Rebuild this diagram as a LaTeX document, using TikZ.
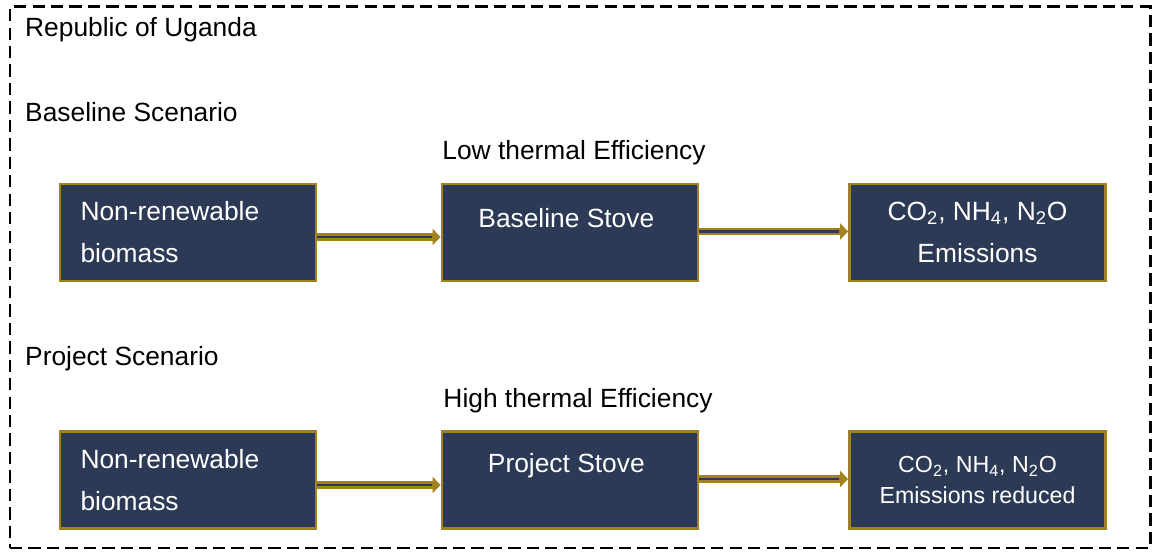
\documentclass[tikz,border=0pt]{standalone}
\usepackage{fontspec}
\setmainfont{Liberation Sans}
\usepackage{xcolor}
\usepackage{tikz}
\usetikzlibrary{
  arrows.meta,
  positioning,
  calc
}
\definecolor{BoxNavy}{HTML}{2C3A56}
\definecolor{BoxGold}{HTML}{A0821E}
\tikzset{
  stage/.style={
    draw=BoxGold,
    fill=BoxNavy,
    line width=1.6pt,
    text=white,
    minimum width=5.12cm,
    minimum height=1.94cm,
    font=\fontsize{15}{23.8}\selectfont
  },
  source/.style={
    stage,
    align=left,
    text width=4.3cm
  },
  stove/.style={
    stage,
    align=center
  },
  output/.style={
    stage,
    align=center
  },
  heading/.style={
    anchor=west,
    font=\fontsize{15}{18}\selectfont
  },
  caption/.style={
    font=\fontsize{15}{18}\selectfont
  },
  flow/.style={
    draw=BoxGold,
    line width=4.3pt,
    -{Triangle[length=4.5pt,width=9pt]},
    postaction={
      draw=BoxNavy,
      line width=1.6pt,
      -,
      shorten >=5pt
    }
  },
  frame/.style={
    draw,
    line width=1.7pt,
    dash pattern=on 7pt off 3.5pt
  }
}

\begin{document}
\begin{tikzpicture}

  \useasboundingbox (0,0) rectangle (23.16,11.04);

  \node[
    frame,
    minimum width=22.8cm,
    minimum height=10.82cm
  ] (border) at (11.6,5.49) {};

  \node[heading] (country) at (0.38,10.44) {
    Republic of Uganda
  };

  \node[heading] (baseline) at (0.38,8.8) {
    Baseline Scenario
  };

  \node[caption] (lowtherm) at (11.48,7.98) {
    Low thermal Efficiency
  };

  \node[source] (biomassA) at (3.76,6.39) {
    Non-renewable\\
    biomass
  };

  \node[stove] (stoveA) at (11.4,6.39) {
    \raisebox{0.29cm}[\height][\depth]{Baseline Stove}
  };

  \node[output] (emitA) at (19.55,6.39) {
    CO\textsubscript{2}, NH\textsubscript{4}, N\textsubscript{2}O\\
    Emissions
  };

  \node[heading] (project) at (0.38,3.86) {
    Project Scenario
  };

  \node[caption] (hightherm) at (11.56,3.02) {
    High thermal Efficiency
  };

  \node[source] (biomassB) at (3.76,1.44) {
    Non-renewable\\
    biomass
  };

  \node[stove] (stoveB) at (11.4,1.44) {
    \raisebox{0.29cm}[\height][\depth]{Project Stove}
  };

  \node[
    output,
    font=\fontsize{13.2}{18}\selectfont
  ] (emitB) at (19.55,1.44) {
    CO\textsubscript{2}, NH\textsubscript{4}, N\textsubscript{2}O\\
    Emissions reduced
  };

  \draw[flow]
  ([yshift=-0.09cm]biomassA.east) --
  ([yshift=-0.09cm]stoveA.west);

  \draw[flow]
  ([yshift=0.02cm]stoveA.east) --
  ([yshift=0.02cm]emitA.west);

  \draw[flow]
  ([yshift=-0.1cm]biomassB.east) --
  ([yshift=-0.1cm]stoveB.west);

  \draw[flow]
  ([yshift=0.02cm]stoveB.east) --
  ([yshift=0.02cm]emitB.west);

\end{tikzpicture}
\end{document}
